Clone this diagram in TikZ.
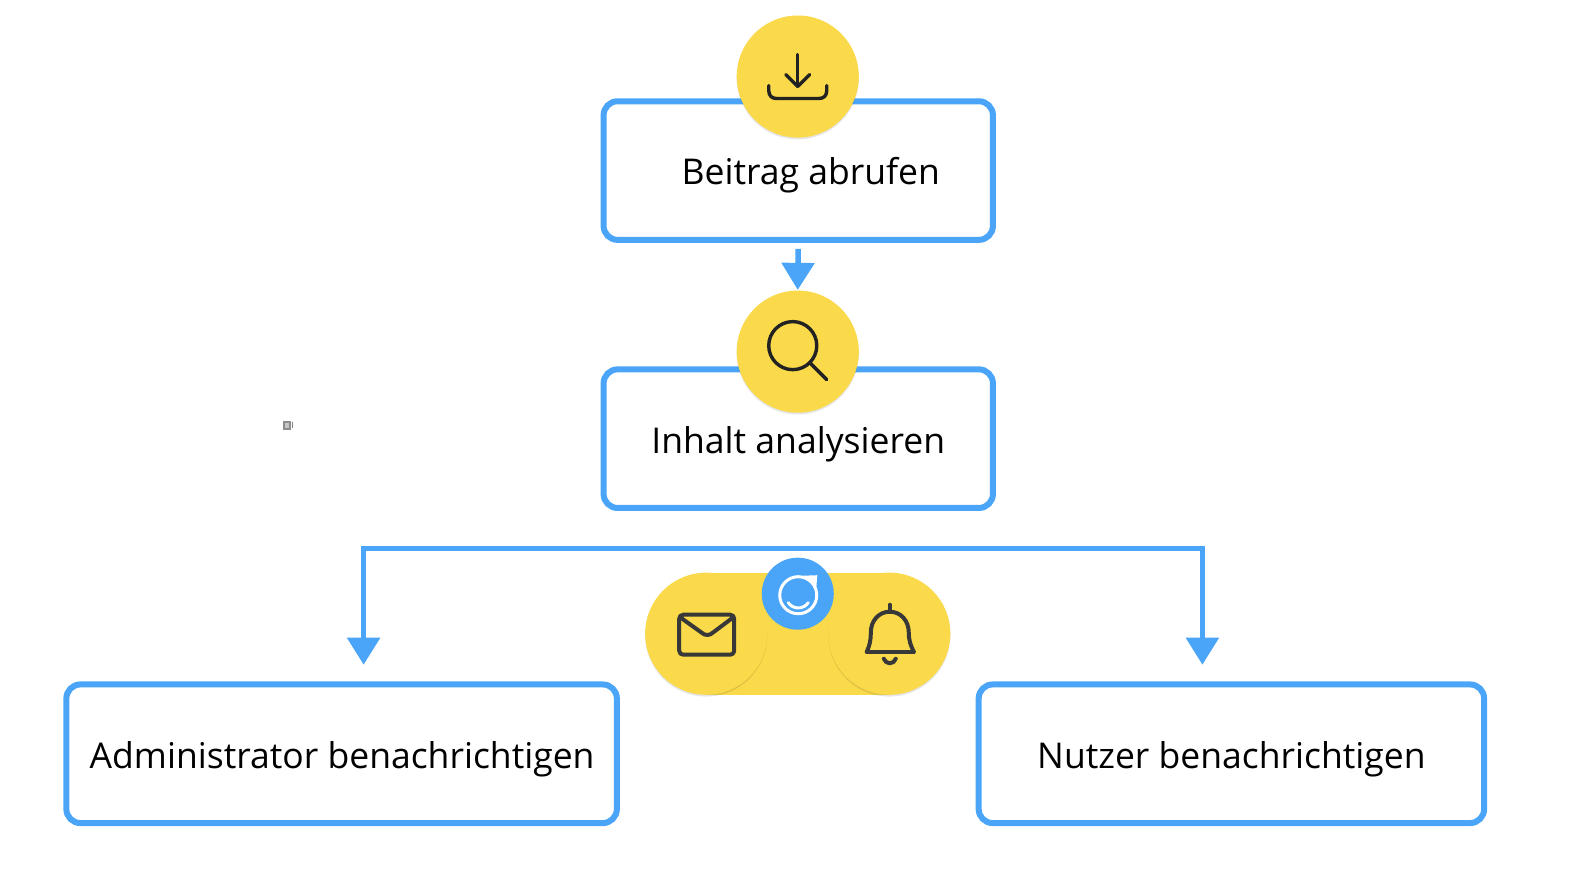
\documentclass[tikz,border=0pt]{standalone}
\usepackage{fontspec}
\setmainfont{Open Sans}
\usepackage{tikz}
\usetikzlibrary{arrows.meta,shadows}
\definecolor{flowblue}{HTML}{4AA5F8}
\definecolor{badgeyellow}{HTML}{FADA4A}
\definecolor{icondark}{HTML}{222222}
\tikzset{
  stepbox/.style={draw=flowblue, line width=0.06cm, rounded corners=0.14cm, fill=white, minimum height=1.385cm, inner sep=0},
  steptext/.style={anchor=base, inner sep=0, font=\fontsize{10.1}{13}\selectfont},
  badge/.style={circle, fill=badgeyellow, minimum size=1.22cm, inner sep=0, drop shadow={shadow xshift=0pt, shadow yshift=-0.5pt, opacity=0.1, fill=black}},
  flowline/.style={draw=flowblue, line width=0.055cm, -{Triangle[width=0.32cm,length=0.27cm]}},
  iconline/.style={draw=icondark, line width=0.034cm, line cap=round, line join=round},
  softline/.style={iconline, draw=icondark!90!white, line width=0.04cm},
}
\begin{document}
\begin{tikzpicture}[x=0.01cm, y=-0.01cm]
  \useasboundingbox (-1, -0.5) rectangle (1568.5, 871);

  % boxes
  \node[stepbox, minimum width=3.89cm] at (797, 170) (abrufen) {};
  \node[stepbox, minimum width=3.89cm] at (797, 438) (analyse) {};
  \node[stepbox, minimum width=5.5cm] at (340.5, 753) (admin) {};
  \node[stepbox, minimum width=5.05cm] at (1230, 753) (nutzer) {};

  \node[steptext] at (809.5, 184) (abrufentext) {Beitrag abrufen};
  \node[steptext] at (797, 452.5) (analysetext) {Inhalt analysieren};
  \node[steptext] at (341, 767.7) (admintext) {Administrator benachrichtigen};
  \node[steptext] at (1230, 767.7) (nutzertext) {Nutzer benachrichtigen};

  % badges
  \node[badge] at (796.5, 76) (download) {};
  \node[badge] at (796.5, 351) (search) {};
  \fill[badgeyellow] (705, 572) rectangle (888, 694);
  \node[badge] at (705, 633) (mail) {};
  \node[badge] at (888, 633) (bell) {};
  \node[circle, fill=flowblue, minimum size=0.72cm, inner sep=0] at (796.5, 593) (logo) {};

  % connectors
  \draw[flowline, shorten <=0.06cm] (abrufen.south) -- (search.north);
  \coordinate (tipadmin) at (362.5, 664);
  \coordinate (tipnutzer) at (1201, 664);
  \coordinate (barleft) at (362.5, 548);
  \coordinate (barright) at (1201, 548);
  \draw[flowline, {Triangle[width=0.32cm,length=0.27cm]}-{Triangle[width=0.32cm,length=0.27cm]}]
    (tipadmin) -- (barleft) -- (barright) -- (tipnutzer);

  % download icon
  \draw[iconline] (796.5, 54) -- (796.5, 86);
  \draw[iconline] (784.5, 74) -- (796.5, 86) -- (808.5, 74);
  \draw[iconline] (767.5, 85) -- (767.5, 90) .. controls (767.5, 95) and (770.5, 98) .. (775.5, 98)
    -- (817.5, 98) .. controls (822.5, 98) and (825.5, 95) .. (825.5, 90) -- (825.5, 85);

  % search icon
  \draw[iconline] (791.5, 345) circle (0.24cm);
  \draw[iconline] (808.5, 362) -- (825.5, 379);

  % mail icon
  \draw[softline, rounded corners=0.04cm] (678, 614) rectangle (733, 654);
  \draw[softline] (679.5, 617) -- (700.5, 632) .. controls (703.5, 635) and (708.5, 635) .. (711.5, 632) -- (731.5, 617);

  % bell icon
  \draw[softline] (888.5, 604) -- (888.5, 611);
  \draw[softline] (865.5, 651) -- (912.5, 651);
  \draw[softline] (865.5, 651) .. controls (868.5, 644) and (869.5, 640) .. (869.5, 632)
    .. controls (869.5, 620) and (877.5, 611) .. (888.5, 611)
    .. controls (899.5, 611) and (907.5, 620) .. (907.5, 632)
    .. controls (907.5, 640) and (909.5, 645) .. (912.5, 651);
  \draw[softline] (882.5, 658) .. controls (884.5, 664) and (892.5, 664) .. (894.5, 658);

  % logo
  \draw[draw=white, line width=0.03cm] (797, 594.5) circle (0.185cm);
  \fill[white] (802, 575) -- (816, 574.5) -- (815, 588) -- (810, 581) -- cycle;
  \draw[draw=white, line width=0.03cm, line cap=round] (787, 602) .. controls (792, 609) and (802, 609) .. (807, 602);

  % small mark
  \node[draw=gray!90, fill=gray!45, line width=0.02cm, minimum width=0.06cm, minimum height=0.07cm, inner sep=0] at (285.5, 424.5) (mark) {};
  \draw[gray, line width=0.015cm] (mark.north east) ++(2, 1) -- ++(0, 6);
\end{tikzpicture}
\end{document}
